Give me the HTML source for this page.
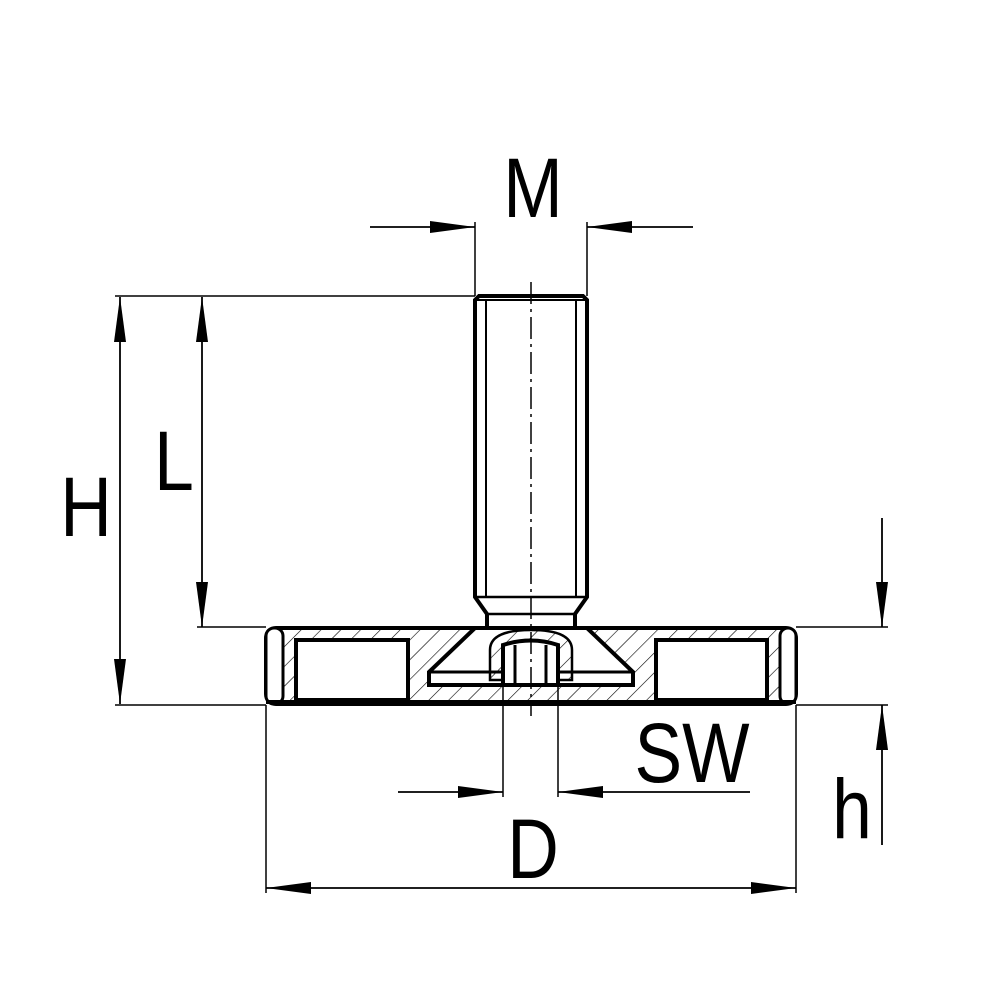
<!DOCTYPE html>
<html><head><style>html,body{margin:0;padding:0;background:#fff}</style></head><body>
<svg width="1000" height="1000" viewBox="0 0 1000 1000" xmlns="http://www.w3.org/2000/svg">
<defs>
<pattern id="h" patternUnits="userSpaceOnUse" width="14" height="14" patternTransform="rotate(45)">
<line x1="0" y1="0" x2="0" y2="14" stroke="#000" stroke-width="1.2"/>
</pattern>
<marker id="a" viewBox="0 0 45 12" refX="45" refY="6" markerWidth="45" markerHeight="12" markerUnits="userSpaceOnUse" orient="auto"><path d="M0,0 L45,6 L0,12 Z" fill="#000"/></marker>
</defs>
<g fill="none" stroke="#000">
<rect x="266" y="628" width="530" height="76" rx="10" fill="url(#h)" stroke-width="4"/>
<rect x="266" y="628" width="17" height="76" rx="8" fill="#fff" stroke-width="3"/>
<rect x="780" y="628" width="16" height="76" rx="8" fill="#fff" stroke-width="3"/>
<rect x="296" y="640" width="112" height="60" fill="#fff" stroke-width="4"/>
<rect x="656" y="640" width="111" height="60" fill="#fff" stroke-width="4"/>
<line x1="266" y1="702" x2="796" y2="702" stroke-width="4"/>
<path d="M475,628 L587,628 L633,672 L633,685 L429,685 L429,672 Z" fill="#fff" stroke-width="4"/>
<line x1="429" y1="672" x2="633" y2="672" stroke-width="3"/>
<path d="M490,680 L490,650 Q490,630 531,630 Q572,630 572,650 L572,680 Z" fill="url(#h)" stroke-width="2.5"/>
<path d="M503,685 L503,645 Q531,636 558,645 L558,685 Z" fill="#fff" stroke-width="4"/>
<line x1="515" y1="645" x2="515" y2="685" stroke-width="3"/>
<line x1="546" y1="645" x2="546" y2="685" stroke-width="3"/>
<path d="M475,300 L479,296 L583,296 L587,300 L587,597 L575,614 L575,628 L487,628 L487,614 L475,597 Z" fill="#fff" stroke-width="4"/>
<line x1="486" y1="300" x2="486" y2="597" stroke-width="2"/>
<line x1="576" y1="300" x2="576" y2="597" stroke-width="2"/>
<line x1="475" y1="300" x2="587" y2="300" stroke-width="2"/>
<line x1="475" y1="597" x2="587" y2="597" stroke-width="2.5"/>
<line x1="487" y1="614" x2="575" y2="614" stroke-width="2.5"/>
<line x1="531" y1="282" x2="531" y2="716" stroke-width="1.5" stroke-dasharray="22,5,3,5"/>
<g stroke-width="1.5">
<line x1="475" y1="222" x2="475" y2="296"/>
<line x1="587" y1="222" x2="587" y2="296"/>
<line x1="115" y1="296" x2="475" y2="296"/>
<line x1="115" y1="705" x2="266" y2="705"/>
<line x1="197" y1="627" x2="266" y2="627"/>
<line x1="796" y1="627" x2="888" y2="627"/>
<line x1="796" y1="705" x2="888" y2="705"/>
<line x1="503" y1="685" x2="503" y2="797"/>
<line x1="558" y1="685" x2="558" y2="797"/>
<line x1="266" y1="705" x2="266" y2="893"/>
<line x1="796" y1="705" x2="796" y2="893"/>
</g>
<g stroke-width="1.8">
<line x1="370" y1="227" x2="475" y2="227" marker-end="url(#a)"/>
<line x1="693" y1="227" x2="587" y2="227" marker-end="url(#a)"/>
<line x1="120" y1="500" x2="120" y2="297" marker-end="url(#a)"/>
<line x1="120" y1="500" x2="120" y2="704" marker-end="url(#a)"/>
<line x1="202" y1="460" x2="202" y2="297" marker-end="url(#a)"/>
<line x1="202" y1="460" x2="202" y2="627" marker-end="url(#a)"/>
<line x1="882" y1="518" x2="882" y2="627" marker-end="url(#a)"/>
<line x1="882" y1="845" x2="882" y2="705" marker-end="url(#a)"/>
<line x1="398" y1="792" x2="503" y2="792" marker-end="url(#a)"/>
<line x1="750" y1="792" x2="558" y2="792" marker-end="url(#a)"/>
<line x1="530" y1="888" x2="266" y2="888" marker-end="url(#a)"/>
<line x1="530" y1="888" x2="796" y2="888" marker-end="url(#a)"/>
</g>
</g>
<g font-family="Liberation Sans, sans-serif" font-size="84" fill="#000" text-anchor="middle">
<text x="533" y="217" transform="translate(533 0) scale(0.85 1) translate(-533 0)">M</text>
<text x="86" y="536" transform="translate(86 0) scale(0.85 1) translate(-86 0)">H</text>
<text x="174" y="490" transform="translate(174 0) scale(0.85 1) translate(-174 0)">L</text>
<text x="692" y="782" transform="translate(692 0) scale(0.85 1) translate(-692 0)">SW</text>
<text x="852" y="838" transform="translate(852 0) scale(0.85 1) translate(-852 0)">h</text>
<text x="533" y="878" transform="translate(533 0) scale(0.85 1) translate(-533 0)">D</text>
</g>
</svg>
</body></html>
